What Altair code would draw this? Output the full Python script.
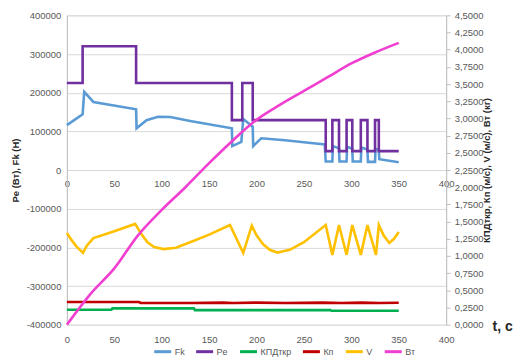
import altair as alt
import pandas as pd

# ---- data ----
# Fk (left axis, Н)
t_fk = [0, 16.6, 18.3, 28, 73, 73.5, 84, 96, 109, 130, 174, 174.5, 184, 186, 196, 196.5,
        205, 230, 250, 272, 273, 280, 280.5, 287, 287.5, 295, 295.5, 301, 301.5, 310,
        310.5, 317, 317.5, 325, 325.5, 329, 329.5, 350]
fk = [116000, 144000, 202000, 176000, 157000, 108000, 129000, 137500, 137000, 127000,
      108000, 62000, 73000, 132000, 112000, 62000, 82000, 77000, 72000, 66000, 22000,
      22000, 62000, 56000, 22000, 22000, 60000, 55000, 22000, 22000, 58000, 53000,
      21000, 21000, 55000, 52000, 28000, 20000]

# Pe (left axis, Вт) - step changes
t_pe = [0, 16.6, 73, 174, 185, 196, 273, 280, 287, 295, 301, 310, 317, 325, 329, 350]
pe = [225000, 320000, 225000, 129000, 225000, 129000, 49000, 129000, 49000, 129000,
      49000, 129000, 49000, 129000, 49000, 49000]

# КПДткр (right axis)
t_kpd = [0, 47, 48, 134, 135, 278, 279, 350]
kpd = [0.218, 0.218, 0.238, 0.238, 0.212, 0.212, 0.203, 0.203]

# Кп (right axis)
t_kp = [0, 30, 76, 78, 130, 165, 175, 200, 230, 270, 290, 310, 330, 350]
kp = [0.33, 0.33, 0.33, 0.316, 0.316, 0.322, 0.316, 0.322, 0.316, 0.322, 0.316, 0.322,
      0.316, 0.32]

# V (right axis)
t_v = [0, 5, 10, 17, 21, 28, 50, 72, 78, 85, 92, 102, 115, 130, 150, 172, 186, 195, 200,
       207, 214, 222, 235, 250, 273, 280, 287, 295, 301, 310, 317, 326, 329, 334, 340,
       345, 350]
v = [1.335, 1.23, 1.14, 1.045, 1.15, 1.26, 1.36, 1.466, 1.33, 1.2, 1.13, 1.10, 1.12,
     1.2, 1.31, 1.45, 1.045, 1.44, 1.3, 1.17, 1.09, 1.05, 1.09, 1.2, 1.45, 1.016, 1.45,
     1.016, 1.45, 1.016, 1.45, 1.016, 1.45, 1.3, 1.19, 1.25, 1.35]

# Вт (right axis)
t_bt = [0, 25, 50, 75, 100, 125, 150, 175, 200, 225, 250, 275, 300, 325, 350]
bt = [0, 0.45, 0.82, 1.3, 1.67, 2.0, 2.35, 2.68, 2.98, 3.2, 3.4, 3.6, 3.8, 3.96, 4.1]

series_order = ["Fk", "Pe", "КПДткр", "Кп", "V", "Вт"]
series_colors = ["#5b9bd5", "#7030a0", "#00b050", "#c00000", "#ffc000", "#f03fd0"]

x_ticks = [0, 50, 100, 150, 200, 250, 300, 350, 400]
left_ticks = [-400000, -300000, -200000, -100000, 0, 100000, 200000, 300000, 400000]
right_ticks = [i * 0.25 for i in range(19)]


def frame(name, ts, vals):
    return pd.DataFrame({"t": ts, "value": vals, "series": name})


df_fk = frame("Fk", t_fk, fk)
df_pe = frame("Pe", t_pe, pe)
df_right = pd.concat([frame("КПДткр", t_kpd, kpd), frame("Кп", t_kp, kp), frame("V", t_v, v)])
df_bt = frame("Вт", t_bt, bt)

FONT = "Liberation Sans"
GREY = "#595959"

color = alt.Color(
    "series:N",
    sort=series_order,
    scale=alt.Scale(domain=series_order, range=series_colors),
    legend=alt.Legend(
        title=None, orient="none", legendX=86, legendY=327, direction="horizontal",
        columns=6, gridAlign="none", symbolType="stroke", symbolStrokeWidth=3,
        symbolSize=289, labelFontSize=9, labelColor=GREY, labelFont=FONT,
        columnPadding=5, labelOffset=2, padding=0,
    ),
)

x_scale = alt.Scale(domain=[0, 400], nice=False)

x_mid = alt.X(
    "t:Q", scale=x_scale, title=None,
    axis=alt.Axis(orient="bottom", offset=-155, values=x_ticks, domain=False, ticks=False,
                  grid=False, labelPadding=8, labelFontSize=9.5, labelColor=GREY,
                  labelFont=FONT, labelFlush=False, labelOverlap=False),
)

x_bot = alt.X(
    "t:Q", scale=x_scale, title="t, c",
    axis=alt.Axis(orient="bottom", values=x_ticks, domain=False, ticks=False, grid=False,
                  labelPadding=10, labelFontSize=9.5, labelColor=GREY, labelFont=FONT,
                  labelFlush=False, labelOverlap=False,
                  titleX=426, titleY=2, titleAlign="left", titleBaseline="middle",
                  titleFontSize=14, titleFontWeight="bold", titleColor="#262626",
                  titleFont=FONT),
)

y_left = alt.Y(
    "value:Q",
    scale=alt.Scale(domain=[-400000, 400000], nice=False),
    axis=alt.Axis(values=left_ticks, labelExpr="'' + datum.value", grid=True,
                  gridColor="#d9d9d9", domainColor="#bfbfbf", ticks=False, labelPadding=6,
                  labelFontSize=9.5, labelColor=GREY, labelFont=FONT,
                  title="Pe (Вт), Fk (Н)", titleFontWeight="bold", titleFontSize=9.5,
                  titleColor="#262626", titleFont=FONT, titlePadding=6),
)

y_right = alt.Y(
    "value:Q",
    scale=alt.Scale(domain=[0, 4.5], nice=False),
    axis=alt.Axis(orient="right", values=right_ticks,
                  labelExpr="replace(format(datum.value, '.4f'), '.', ',')", grid=False,
                  domainColor="#bfbfbf", tickColor="#bfbfbf", tickSize=4, labelPadding=4,
                  labelFontSize=9.5, labelColor=GREY, labelFont=FONT,
                  title="КПДткр, Кп (м/с), V (м/с), Вт (кг)", titleAngle=270,
                  titleFontWeight="bold", titleFontSize=9.5, titleColor="#262626",
                  titleFont=FONT, titlePadding=8),
)

fk_line = alt.Chart(df_fk).mark_line(strokeWidth=2.6).encode(x=x_mid, y=y_left, color=color)
pe_line = alt.Chart(df_pe).mark_line(strokeWidth=2.6, interpolate="step-after").encode(
    x=x_mid, y=y_left, color=color)
left = alt.layer(fk_line, pe_line)

r_lines = alt.Chart(df_right).mark_line(strokeWidth=2.6).encode(
    x=x_bot, y=y_right, color=color, detail="series:N")
bt_line = alt.Chart(df_bt).mark_line(strokeWidth=2.6, interpolate="monotone").encode(
    x=x_bot, y=y_right, color=color)
right = alt.layer(r_lines, bt_line)

chart = (
    alt.layer(left, right)
    .resolve_scale(y="independent")
    .resolve_axis(x="independent")
    .properties(
        width=380, height=310,
        autosize=alt.AutoSizeParams(type="none"),
        padding={"left": 59, "top": 7, "right": 75, "bottom": 40},
    )
    .configure_view(stroke=None)
    .configure(font=FONT)
)

chart.save("out.html", embed_options={"renderer": "svg", "actions": False})
